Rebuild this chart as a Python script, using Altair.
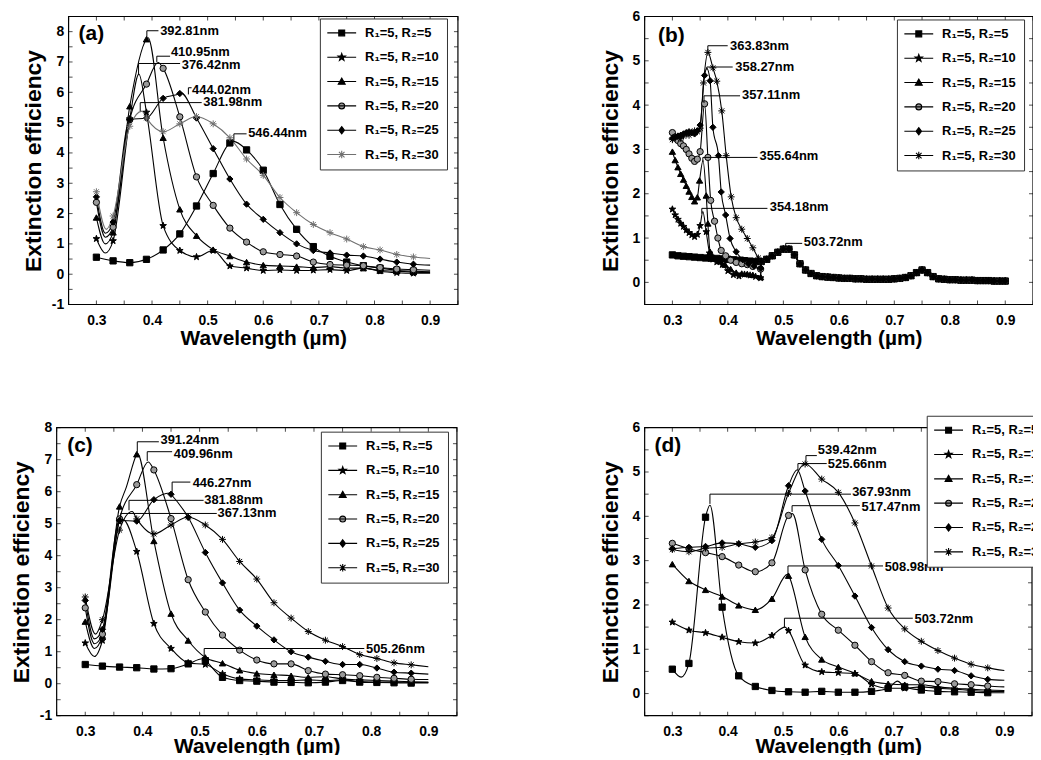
import altair as alt
import pandas as pd

FONT = "Liberation Sans"

SERIES = ["R\u2081=5, R\u2082=5", "R\u2081=5, R\u2082=10", "R\u2081=5, R\u2082=15",
          "R\u2081=5, R\u2082=20", "R\u2081=5, R\u2082=25", "R\u2081=5, R\u2082=30"]

GRID = [0.30, 0.33, 0.36, 0.39, 0.42, 0.45, 0.48, 0.51, 0.54, 0.57,
        0.60, 0.63, 0.66, 0.69, 0.72, 0.75, 0.78, 0.81, 0.84, 0.87]

X_TICKS = [0.25, 0.30, 0.35, 0.40, 0.45, 0.50, 0.55, 0.60, 0.65, 0.70,
           0.75, 0.80, 0.85, 0.90, 0.95]
Y_TICKS_A = [-1, -0.5, 0, 0.5, 1, 1.5, 2, 2.5, 3, 3.5, 4, 4.5, 5, 5.5, 6, 6.5, 7, 7.5, 8, 8.5]
Y_TICKS_C = [-1, -0.5, 0, 0.5, 1, 1.5, 2, 2.5, 3, 3.5, 4, 4.5, 5, 5.5, 6, 6.5, 7, 7.5, 8]
Y_TICKS_BD = [-0.5, 0, 0.5, 1, 1.5, 2, 2.5, 3, 3.5, 4, 4.5, 5, 5.5, 6]

# ---------------- panel (a) ----------------
A_R5 = [0.56, 0.44, 0.38, 0.49, 0.80, 1.33, 2.25, 3.32, 4.33, 4.10, 3.43, 2.30, 1.48, 0.91, 0.59, 0.40, 0.28, 0.20, 0.13, 0.10]
A_R10 = [1.17, 1.10, 5.12, 5.34, 1.60, 0.78, 0.57, 0.78, 0.27, 0.20, 0.12, 0.14, 0.12, 0.13, 0.15, 0.12, 0.20, 0.10, 0.05, 0.03]
A_R15 = [1.87, 1.38, 5.54, 7.75, 4.50, 2.14, 1.27, 0.81, 0.60, 0.40, 0.30, 0.27, 0.25, 0.22, 0.25, 0.20, 0.20, 0.12, 0.10, 0.07]
A_R20 = [2.37, 1.55, 5.10, 6.27, 6.79, 5.19, 3.21, 2.27, 1.52, 1.06, 0.74, 0.65, 0.60, 0.40, 0.32, 0.30, 0.28, 0.22, 0.17, 0.15]
A_R25 = [2.55, 1.72, 5.10, 5.15, 5.80, 5.96, 5.15, 4.14, 3.14, 2.31, 1.81, 1.37, 1.00, 0.78, 0.70, 0.63, 0.60, 0.50, 0.40, 0.33]
A_R30 = [2.72, 1.92, 4.88, 5.15, 4.70, 4.96, 5.20, 4.96, 4.50, 3.80, 3.26, 2.53, 2.03, 1.64, 1.37, 1.16, 0.91, 0.80, 0.65, 0.57]
A_EXTRA = [
    [(0.5464, 4.38), (0.90, 0.08)],
    [(0.316, 0.70), (0.3764, 6.60), (0.90, 0.03)],
    [(0.316, 1.00), (0.3928, 7.80), (0.90, 0.06)],
    [(0.316, 1.22), (0.411, 6.98), (0.90, 0.13)],
    [(0.316, 1.35), (0.452, 5.98), (0.90, 0.30)],
    [(0.318, 1.48), (0.382, 5.38), (0.90, 0.52)],
]
A_LABELS = [
    ("392.81nm", 0.3907, 7.82, 8.03, 0.4116, 0.4146, 8.03),
    ("410.95nm", 0.4086, 7.00, 7.19, 0.4325, 0.4340, 7.33),
    ("376.42nm", 0.3758, 6.60, 6.95, 0.4505, 0.4534, 6.90),
    ("444.02nm", 0.4654, 5.93, 6.15, 0.4712, 0.4720, 6.09),
    ("381.98nm", 0.3788, 5.38, 5.66, 0.4893, 0.4922, 5.69),
    ("546.44nm", 0.5472, 4.36, 4.63, 0.5700, 0.5728, 4.67),
]

# ---------------- panel (b) ----------------
B_R5_X = [0.30, 0.31, 0.32, 0.33, 0.34, 0.35, 0.36, 0.37, 0.38, 0.39, 0.40, 0.41, 0.42, 0.43, 0.44, 0.45]
B_R5_Y = [0.62, 0.60, 0.59, 0.58, 0.57, 0.56, 0.55, 0.545, 0.54, 0.53, 0.52, 0.51, 0.50, 0.49, 0.48, 0.47]
B_R10_X = [0.30, 0.305, 0.31, 0.315, 0.32, 0.325, 0.33, 0.335, 0.34, 0.345, 0.35, 0.361, 0.367, 0.373, 0.38, 0.39, 0.40, 0.41, 0.42, 0.43, 0.44, 0.45, 0.459]
B_R10_Y = [1.65, 1.52, 1.42, 1.33, 1.26, 1.18, 1.12, 1.07, 1.03, 1.08, 1.28, 1.14, 0.66, 0.52, 0.46, 0.40, 0.26, 0.17, 0.14, 0.18, 0.16, 0.13, 0.10]
B_R15_X = [0.30, 0.305, 0.31, 0.315, 0.32, 0.325, 0.33, 0.335, 0.34, 0.345, 0.349, 0.361, 0.364, 0.368, 0.376, 0.385, 0.395, 0.405, 0.415, 0.425, 0.435, 0.445, 0.459]
B_R15_Y = [2.95, 2.76, 2.60, 2.45, 2.32, 2.18, 2.05, 1.93, 1.83, 1.92, 2.30, 1.96, 1.33, 0.69, 0.55, 0.48, 0.40, 0.30, 0.22, 0.20, 0.19, 0.17, 0.12]
B_R20_X = [0.30, 0.305, 0.31, 0.315, 0.32, 0.325, 0.33, 0.335, 0.34, 0.345, 0.35, 0.358, 0.364, 0.369, 0.376, 0.382, 0.388, 0.396, 0.405, 0.415, 0.425, 0.435, 0.445, 0.459]
B_R20_Y = [3.38, 3.28, 3.20, 3.13, 3.08, 3.00, 2.90, 2.80, 2.73, 2.78, 2.95, 4.03, 2.82, 1.85, 1.38, 1.00, 0.72, 0.60, 0.50, 0.45, 0.42, 0.40, 0.36, 0.30]
B_R25_X = [0.30, 0.305, 0.31, 0.315, 0.32, 0.325, 0.33, 0.335, 0.34, 0.345, 0.35, 0.358, 0.368, 0.373, 0.383, 0.388, 0.396, 0.404, 0.415, 0.427, 0.437, 0.447, 0.459]
B_R25_Y = [3.25, 3.27, 3.30, 3.32, 3.35, 3.38, 3.40, 3.38, 3.35, 3.42, 3.55, 4.67, 4.55, 3.50, 2.86, 2.04, 1.52, 0.99, 0.69, 0.51, 0.42, 0.37, 0.32]
B_R30_X = [0.30, 0.305, 0.31, 0.315, 0.32, 0.325, 0.33, 0.335, 0.34, 0.345, 0.35, 0.356, 0.364, 0.373, 0.38, 0.389, 0.397, 0.406, 0.415, 0.425, 0.435, 0.445, 0.455]
B_R30_Y = [3.22, 3.28, 3.30, 3.25, 3.30, 3.35, 3.32, 3.38, 3.42, 3.40, 3.48, 4.50, 5.19, 4.84, 4.54, 3.87, 2.86, 1.93, 1.46, 1.20, 0.99, 0.78, 0.55]
B_TAIL_X = [0.46, 0.47, 0.48, 0.49, 0.50, 0.51, 0.52, 0.53, 0.54, 0.55, 0.56, 0.57, 0.58, 0.59, 0.60,
            0.61, 0.62, 0.63, 0.64, 0.65, 0.66, 0.67, 0.68, 0.69, 0.70, 0.71, 0.72, 0.73, 0.74, 0.75,
            0.76, 0.77, 0.78, 0.79, 0.80, 0.81, 0.82, 0.83, 0.84, 0.85, 0.86, 0.87, 0.88, 0.89, 0.90]
B_TAIL_Y = [0.47, 0.52, 0.60, 0.68, 0.75, 0.75, 0.62, 0.42, 0.28, 0.20, 0.15, 0.13, 0.12, 0.11, 0.10,
            0.09, 0.09, 0.08, 0.08, 0.07, 0.07, 0.07, 0.07, 0.07, 0.08, 0.09, 0.11, 0.15, 0.22, 0.28,
            0.22, 0.13, 0.08, 0.07, 0.06, 0.06, 0.05, 0.05, 0.05, 0.04, 0.04, 0.04, 0.03, 0.03, 0.03]
B_EXTRA = [
    [(0.505, 0.77)],
    [(0.3549, 1.60), (0.505, 0.77)],
    [(0.3552, 2.75), (0.505, 0.77)],
    [(0.505, 0.77)],
    [(0.362, 4.83), (0.505, 0.77)],
    [(0.505, 0.77)],
]
B_LABELS = [
    ("363.83nm", 0.3639, 5.22, 5.34, 0.3997, 0.4040, 5.34),
    ("358.27nm", 0.3620, 4.80, 4.86, 0.4087, 0.4134, 4.86),
    ("357.11nm", 0.3570, 4.05, 4.21, 0.4220, 0.4255, 4.22),
    ("355.64nm", 0.3549, 2.72, 2.82, 0.4533, 0.4570, 2.84),
    ("354.18nm", 0.3530, 1.55, 1.67, 0.4713, 0.4755, 1.69),
    ("503.72nm", 0.5042, 0.80, 0.88, 0.5340, 0.5370, 0.92),
]

# ---------------- panel (c) ----------------
C_R5 = [0.60, 0.55, 0.52, 0.50, 0.46, 0.47, 0.62, 0.72, 0.20, 0.10, 0.08, 0.05, 0.04, 0.03, 0.05, 0.10, 0.05, 0.04, 0.03, 0.02]
C_R10 = [1.27, 1.35, 5.06, 4.13, 1.88, 1.10, 0.65, 0.60, 0.31, 0.15, 0.12, 0.10, 0.10, 0.12, 0.10, 0.12, 0.07, 0.05, 0.05, 0.04]
C_R15 = [1.94, 1.50, 5.54, 7.17, 4.46, 2.19, 1.35, 0.82, 0.64, 0.42, 0.32, 0.28, 0.25, 0.20, 0.22, 0.15, 0.12, 0.10, 0.08, 0.06]
C_R20 = [2.37, 1.55, 5.15, 6.22, 6.68, 5.16, 3.25, 2.24, 1.52, 1.05, 0.74, 0.62, 0.62, 0.41, 0.30, 0.28, 0.25, 0.20, 0.17, 0.14]
C_R25 = [2.60, 1.70, 5.10, 5.08, 5.75, 5.92, 5.20, 4.10, 3.15, 2.30, 1.80, 1.37, 1.00, 0.83, 0.70, 0.60, 0.60, 0.49, 0.36, 0.33]
C_R30 = [2.71, 2.00, 4.80, 5.15, 4.68, 4.96, 5.21, 4.96, 4.51, 3.82, 3.27, 2.53, 2.05, 1.63, 1.36, 1.16, 0.91, 0.79, 0.65, 0.59]
C_EXTRA = [
    [(0.505, 0.78), (0.90, 0.02)],
    [(0.316, 0.85), (0.366, 5.13), (0.90, 0.04)],
    [(0.316, 1.10), (0.372, 6.15), (0.391, 7.20), (0.90, 0.05)],
    [(0.316, 1.25), (0.41, 6.93), (0.90, 0.13)],
    [(0.316, 1.40), (0.448, 5.96), (0.90, 0.30)],
    [(0.318, 1.55), (0.382, 5.38), (0.90, 0.53)],
]
C_LABELS = [
    ("391.24nm", 0.3910, 7.23, 7.56, 0.4287, 0.4316, 7.60),
    ("409.96nm", 0.4084, 6.96, 7.25, 0.4519, 0.4548, 7.17),
    ("446.27nm", 0.4519, 5.99, 6.30, 0.4838, 0.4878, 6.28),
    ("381.88nm", 0.3765, 5.42, 5.73, 0.5070, 0.5081, 5.73),
    ("367.13nm", 0.3620, 5.11, 5.32, 0.5300, 0.5313, 5.34),
    ("505.26nm", 0.5080, 0.83, 1.10, 0.7880, 0.7910, 1.09),
]

# ---------------- panel (d) ----------------
D_R5 = [0.55, 0.68, 3.98, 1.95, 0.40, 0.16, 0.07, 0.04, 0.03, 0.05, 0.03, 0.03, 0.05, 0.12, 0.15, 0.08, 0.05, 0.04, 0.03, 0.02]
D_R10 = [1.61, 1.43, 1.37, 1.27, 1.17, 1.14, 1.31, 1.42, 0.64, 0.49, 0.47, 0.45, 0.21, 0.12, 0.12, 0.15, 0.12, 0.10, 0.07, 0.05]
D_R15 = [2.92, 2.54, 2.34, 2.19, 1.99, 1.89, 2.14, 2.66, 1.28, 0.77, 0.60, 0.46, 0.28, 0.22, 0.20, 0.20, 0.15, 0.12, 0.10, 0.08]
D_R20 = [3.39, 3.27, 3.18, 3.09, 2.90, 2.75, 2.95, 4.02, 2.79, 1.79, 1.43, 1.09, 0.72, 0.47, 0.41, 0.28, 0.27, 0.22, 0.20, 0.17]
D_R25 = [3.27, 3.30, 3.32, 3.40, 3.38, 3.30, 3.45, 4.69, 4.57, 3.48, 2.89, 2.20, 1.49, 0.99, 0.72, 0.62, 0.55, 0.52, 0.40, 0.32]
D_R30 = [3.25, 3.20, 3.28, 3.30, 3.38, 3.42, 3.52, 4.52, 5.18, 4.84, 4.54, 3.85, 2.88, 1.93, 1.46, 1.18, 0.97, 0.80, 0.66, 0.58]
D_EXTRA = [
    [(0.316, 0.37), (0.368, 4.25), (0.707, 0.28), (0.90, 0.02)],
    [(0.5037, 1.50), (0.90, 0.05)],
    [(0.508, 2.69), (0.90, 0.07)],
    [(0.517, 4.06), (0.90, 0.15)],
    [(0.5257, 5.05), (0.90, 0.30)],
    [(0.90, 0.52)],
]
D_LABELS = [
    ("539.42nm", 0.5415, 5.19, 5.37, 0.5612, 0.5630, 5.49),
    ("525.66nm", 0.5270, 5.04, 5.19, 0.5790, 0.5810, 5.18),
    ("367.93nm", 0.3680, 4.28, 4.50, 0.6228, 0.6250, 4.54),
    ("517.47nm", 0.5164, 4.10, 4.24, 0.6389, 0.6420, 4.22),
    ("508.98nm", 0.5090, 2.68, 2.88, 0.6808, 0.6837, 2.85),
    ("503.72nm", 0.5026, 1.50, 1.70, 0.7346, 0.7376, 1.68),
]

# ---------------- marker styles ----------------
STAR = "M0,-1.1L0.26,-0.36L1.05,-0.34L0.42,0.14L0.65,0.9L0,0.45L-0.65,0.9L-0.42,0.14L-1.05,-0.34L-0.26,-0.36Z"
ASTER = "M0,-1.1V1.1M-1.1,0H1.1M-0.8,-0.8L0.8,0.8M-0.8,0.8L0.8,-0.8"
PLOT_SHAPES = ["square", STAR, "triangle-up", "circle", "diamond", ASTER]
LINE = "M-4.15,0H4.15"
LEGEND_SHAPES = [
    LINE + "M-0.85,-0.85H0.85V0.85H-0.85Z",
    LINE + STAR,
    LINE + "M0,-1L1,0.75H-1Z",
    LINE + "M-0.85,0A0.85,0.85,0,1,0,0.85,0A0.85,0.85,0,1,0,-0.85,0Z",
    LINE + "M0,-1.05L0.8,0L0,1.05L-0.8,0Z",
    LINE + ASTER,
]
FILLS = ["black", "black", "black", "#9a9a9a", "black", "black"]
STROKES_A = ["black", "black", "black", "black", "black", "#707070"]
STROKES = ["black"] * 6

XL = ("abs(datum.value*10 - round(datum.value*10)) < 0.001 && datum.value > 0.27 && datum.value < 0.92"
      " ? format(datum.value, '.1f') : ''")
YL = "datum.value == round(datum.value) ? '' + datum.value : ''"


def build(xs_list, ys_list, extras, tail_x=None, tail_y=None):
    mrows, lrows = [], []
    for s, xs, ys, ex in zip(SERIES, xs_list, ys_list, extras):
        own = list(zip(xs, ys))
        if tail_x is not None:
            own = own + list(zip(tail_x, tail_y))
        for x, y in own:
            mrows.append({"x": x, "y": y, "series": s})
        for x, y in sorted(own + list(ex)):
            lrows.append({"x": x, "y": y, "series": s})
    return pd.DataFrame(mrows), pd.DataFrame(lrows)


def leader_frames(items):
    lr, tr = [], []
    for i, (lab, x0, y0, y1, x1, xt, yt) in enumerate(items):
        for k, (x, y) in enumerate([(x0, y0), (x0, y1), (x1, y1)]):
            lr.append({"lid": i, "k": k, "x": x, "y": y})
        tr.append({"x": xt, "y": yt, "label": lab})
    return pd.DataFrame(lr), pd.DataFrame(tr)


def panel(frame_w, ydom, yticks, mk, ln, labels, letter, letter_xy, legend_xy, strokes,
          title_pad, shift=0, x_title_pad=0):
    # `shift` px of empty room left of the frame (to offset this panel inside its column)
    width = frame_w + shift
    xmin = 0.25 - shift * 0.70 / frame_w
    xsc = alt.Scale(domain=[xmin, 0.95], nice=False, zero=False)
    ysc = alt.Scale(domain=ydom, nice=False, zero=False)
    ax_b = alt.Axis(orient="bottom", values=X_TICKS, labelExpr=XL, title="Wavelength (\u00b5m)",
                    titleFontSize=21, ticks=False, domain=False, labelPadding=9,
                    titlePadding=x_title_pad, labelFlush=False, labelOverlap=False,
                    titleX=shift + frame_w / 2)
    ax_l = alt.Axis(orient="left", values=yticks, labelExpr=YL, title="Extinction efficiency",
                    titleFontSize=23, ticks=False, domain=False, labelPadding=5,
                    titlePadding=title_pad, labelFlush=False, labelOverlap=False,
                    offset=-shift)
    sscale = alt.Scale(domain=SERIES, range=strokes)
    X0 = alt.X("x:Q", scale=xsc, axis=None)
    Y0 = alt.Y("y:Q", scale=ysc, axis=None)

    lines = alt.Chart(ln).mark_line(interpolate="monotone", strokeWidth=1.1).encode(
        x=alt.X("x:Q", scale=xsc, axis=ax_b),
        y=alt.Y("y:Q", scale=ysc, axis=ax_l),
        detail="series:N",
        stroke=alt.Stroke("series:N", scale=sscale, legend=None),
    )
    pts = alt.Chart(mk).mark_point(filled=True, size=40, strokeWidth=1, opacity=1).encode(
        x=X0, y=Y0,
        shape=alt.Shape("series:N", scale=alt.Scale(domain=SERIES, range=PLOT_SHAPES), legend=None),
        fill=alt.Fill("series:N", scale=alt.Scale(domain=SERIES, range=FILLS), legend=None),
        stroke=alt.Stroke("series:N", scale=sscale, legend=None),
    )
    ldf, tdf = leader_frames(labels)
    leaders = alt.Chart(ldf).mark_line(color="black", strokeWidth=1).encode(
        x=X0, y=Y0, detail="lid:N", order=alt.Order("k:Q"),
    )
    texts = alt.Chart(tdf).mark_text(align="left", baseline="middle", font=FONT, fontSize=13,
                                     fontWeight="bold", color="black").encode(
        x=X0, y=Y0, text="label:N",
    )
    let_df = pd.DataFrame({"x": [letter_xy[0]], "y": [letter_xy[1]], "t": [letter]})
    let_txt = alt.Chart(let_df).mark_text(align="left", baseline="middle", font=FONT, fontSize=21,
                                          fontWeight="bold", color="black").encode(
        x=X0, y=Y0, text="t:N",
    )
    # plot frame and inward ticks (positioned with the panel's scales)
    fr = pd.DataFrame({"x": [0.25], "x2": [0.95], "y": [ydom[0]], "y2": [ydom[1]]})
    frame = alt.Chart(fr).mark_rect(fillOpacity=0, stroke="black", strokeWidth=1.2).encode(
        x=X0, x2="x2:Q", y=Y0, y2="y2:Q")
    tb = pd.DataFrame({"x": X_TICKS, "y": [ydom[0]] * len(X_TICKS)})
    tt = pd.DataFrame({"x": X_TICKS, "y": [ydom[1]] * len(X_TICKS)})
    tl = pd.DataFrame({"x": [0.25] * len(yticks), "y": yticks})
    trr = pd.DataFrame({"x": [0.95] * len(yticks), "y": yticks})
    tick_b = alt.Chart(tb).mark_tick(orient="vertical", size=4, thickness=1, yOffset=-2,
                                     color="black").encode(x=X0, y=Y0)
    tick_t = alt.Chart(tt).mark_tick(orient="vertical", size=4, thickness=1, yOffset=2,
                                     color="black").encode(x=X0, y=Y0)
    tick_l = alt.Chart(tl).mark_tick(orient="horizontal", size=4, thickness=1, xOffset=2,
                                     color="black").encode(x=X0, y=Y0)
    tick_r = alt.Chart(trr).mark_tick(orient="horizontal", size=4, thickness=1, xOffset=-2,
                                      color="black").encode(x=X0, y=Y0)

    leg = alt.Legend(title=None, orient="none", legendX=legend_xy[0], legendY=legend_xy[1],
                     strokeColor="#333333", fillColor="white", padding=8, symbolSize=49,
                     symbolStrokeWidth=1.1, labelFont=FONT, labelFontSize=13,
                     labelFontWeight="bold", labelColor="black", rowPadding=10.5,
                     symbolOffset=7.5, labelOffset=17, labelLimit=300)
    legend_layer = alt.Chart(pd.DataFrame({"series": SERIES})).transform_filter("false").mark_point(
        filled=True, opacity=1).encode(
        shape=alt.Shape("series:N", scale=alt.Scale(domain=SERIES, range=LEGEND_SHAPES), legend=leg),
        fill=alt.Fill("series:N", scale=alt.Scale(domain=SERIES, range=FILLS), legend=leg),
        stroke=alt.Stroke("series:N", scale=alt.Scale(domain=SERIES, range=strokes), legend=leg),
    )
    return alt.layer(lines, pts, leaders, texts, let_txt, frame, tick_b, tick_t, tick_l, tick_r,
                     legend_layer).resolve_scale(
        shape="independent", fill="independent", stroke="independent"
    ).resolve_axis(x="independent", y="independent").properties(width=width, height=290)


mk_a, ln_a = build([GRID] * 6, [A_R5, A_R10, A_R15, A_R20, A_R25, A_R30], A_EXTRA)
mk_b, ln_b = build([B_R5_X, B_R10_X, B_R15_X, B_R20_X, B_R25_X, B_R30_X],
                   [B_R5_Y, B_R10_Y, B_R15_Y, B_R20_Y, B_R25_Y, B_R30_Y], B_EXTRA,
                   B_TAIL_X, B_TAIL_Y)
mk_c, ln_c = build([GRID] * 6, [C_R5, C_R10, C_R15, C_R20, C_R25, C_R30], C_EXTRA)
mk_d, ln_d = build([GRID] * 6, [D_R5, D_R10, D_R15, D_R20, D_R25, D_R30], D_EXTRA)

pa = panel(392, [-1, 8.5], Y_TICKS_A, mk_a, ln_a, A_LABELS, "(a)", (0.268, 7.93), (265, 2),
           STROKES_A, 6, shift=12)
pb = panel(391, [-0.5, 6], Y_TICKS_BD, mk_b, ln_b, B_LABELS, "(b)", (0.274, 5.55), (254, 3),
           STROKES, 10)
pc = panel(403, [-1, 8], Y_TICKS_C, mk_c, ln_c, C_LABELS, "(c)", (0.2686, 7.43), (266, 4),
           STROKES, 6, x_title_pad=-3)
pd_ = panel(390, [-0.5, 6], Y_TICKS_BD, mk_d, ln_d, D_LABELS, "(d)", (0.268, 5.59), (284, -12),
            STROKES, 10, x_title_pad=-3)

row1 = alt.hconcat(pa, pb, spacing=141)
row2 = alt.hconcat(pc, pd_, spacing=142)

chart = alt.vconcat(row1, row2, spacing=67).properties(
    padding={"left": 2, "top": -1, "right": -22, "bottom": -4},
    background="white",
).configure_view(stroke=None).configure_axis(
    labelFont=FONT, labelFontSize=14, labelFontWeight="bold", labelColor="black",
    titleFont=FONT, titleFontWeight="bold", titleColor="black", grid=False,
)

chart.save("out.html", embed_options={"renderer": "svg", "actions": False})
